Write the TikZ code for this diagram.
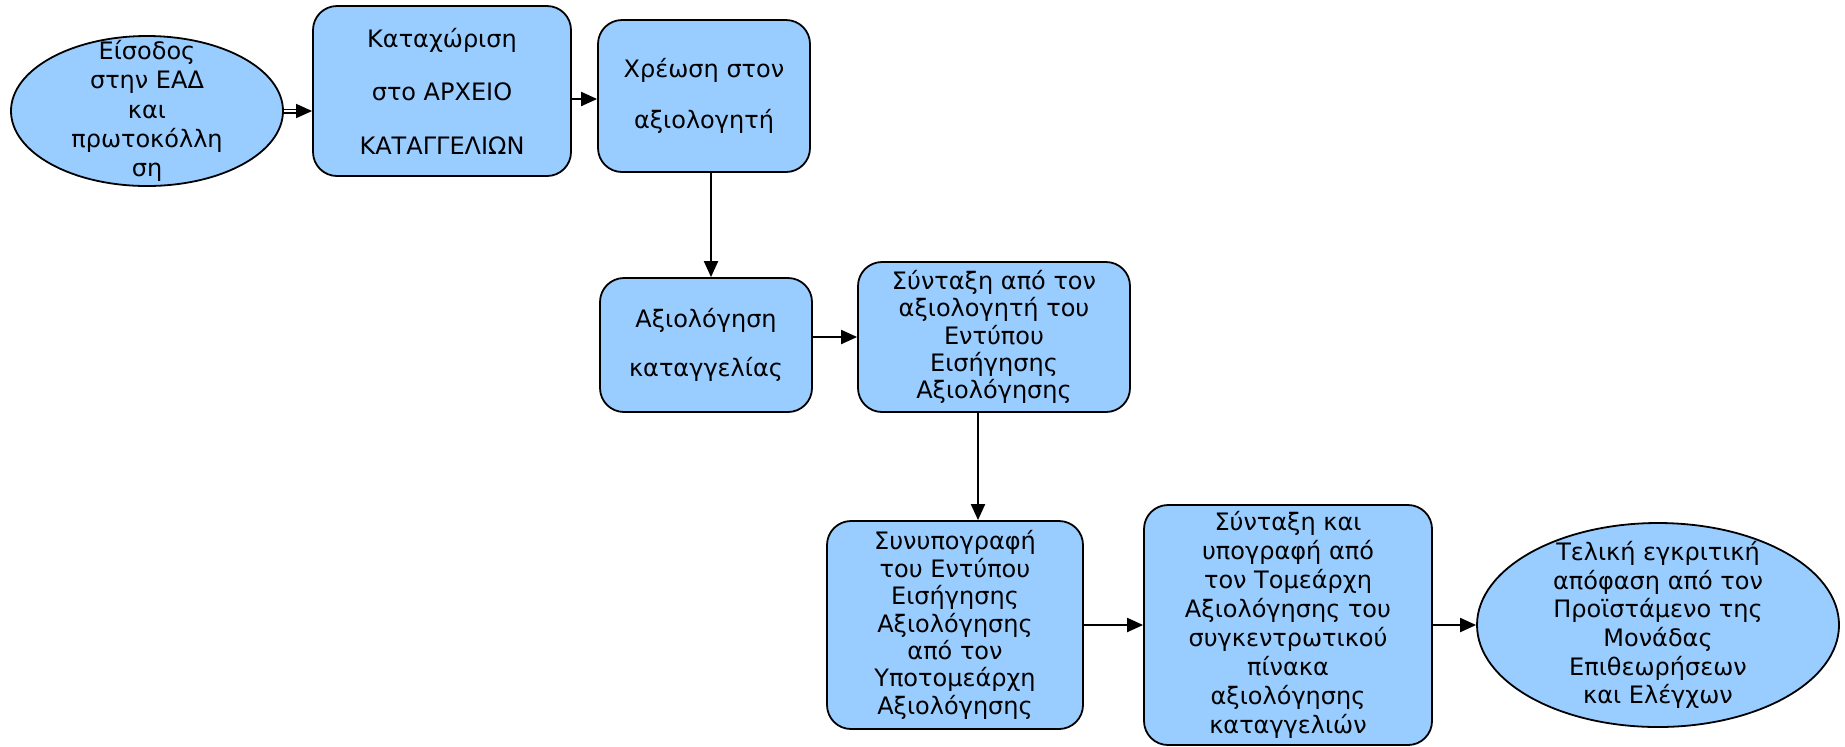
\documentclass[tikz,border=0pt]{standalone}
\usepackage{fontspec}
\setmainfont{DejaVu Sans}
\usetikzlibrary{arrows.meta,shapes.geometric,calc}
\definecolor{boxblue}{HTML}{99CCFF}
\tikzset{
  box/.style={draw,fill=boxblue,line width=0.9pt,rounded corners=12pt,align=center,inner sep=0pt},
  oval/.style={draw,fill=boxblue,line width=0.9pt,ellipse,align=center,inner xsep=0pt},
  arr/.style={line width=1pt,-{Triangle[length=8pt,width=7pt]}}
}

\begin{document}
\begin{tikzpicture}[x=0.5pt,y=-0.5pt,font=\fontsize{12}{13.7}\selectfont]
\useasboundingbox (0,0) rectangle (1845,746);
% first row
\node[oval,minimum width=136pt,minimum height=75pt,inner ysep=-9.5pt,font=\fontsize{12}{14.6}\selectfont] (in) at (147,111) {Είσοδος\\στην ΕΑΔ\\και\\πρωτοκόλλη\\ση};
\node[box,minimum width=129pt,minimum height=85pt] (reg) at (442,91) {Καταχώριση\\[13pt] στο ΑΡΧΕΙΟ\\[13pt]ΚΑΤΑΓΓΕΛΙΩΝ};
\node[box,minimum width=106pt,minimum height=76pt] (chg) at (704,96) {Χρέωση στον\\[12pt]αξιολογητή};
% second row
\node[box,minimum width=106pt,minimum height=67pt] (eval) at (706,345) {Αξιολόγηση\\[11pt]καταγγελίας};
\node[box,minimum width=136pt,minimum height=75pt] (draft) at (994,337) {Σύνταξη από τον\\αξιολογητή του\\Εντύπου\\Εισήγησης\\Αξιολόγησης};
% third row
\node[box,minimum width=128pt,minimum height=104pt] (cosign) at (955,625) {Συνυπογραφή\\του Εντύπου\\Εισήγησης\\Αξιολόγησης\\από τον\\Υποτομεάρχη\\Αξιολόγησης};
\node[box,minimum width=144pt,minimum height=120pt,font=\fontsize{12}{14.5}\selectfont] (sum) at (1288,625) {Σύνταξη και\\υπογραφή από\\τον Τομεάρχη\\Αξιολόγησης του\\συγκεντρωτικού\\πίνακα\\αξιολόγησης\\καταγγελιών};
\node[oval,minimum width=181pt,minimum height=102pt,inner ysep=-6.5pt,font=\fontsize{12}{14.35}\selectfont] (final) at (1658,625) {Τελική εγκριτική\\απόφαση από τον\\Προϊστάμενο της\\Μονάδας\\Επιθεωρήσεων\\και Ελέγχων};
% connectors
\draw[arr,double,double distance=1pt,line width=0.75pt] (in.east) -- (reg.west |- in.east);
\draw[arr] ([yshift=-1.5pt]chg.west -| reg.east) -- ([yshift=-1.5pt]chg.west);
\draw[arr] ([xshift=3.5pt]chg.south) -- ([xshift=3.5pt]chg.south |- eval.north);
\draw[arr] (draft.west -| eval.east) -- (draft.west);
\draw[arr] ([xshift=-8pt]draft.south) -- ([xshift=-8pt]draft.south |- cosign.north);
\draw[arr] (cosign.east) -- (sum.west);
\draw[arr] (sum.east) -- (final.west);
\end{tikzpicture}
\end{document}
